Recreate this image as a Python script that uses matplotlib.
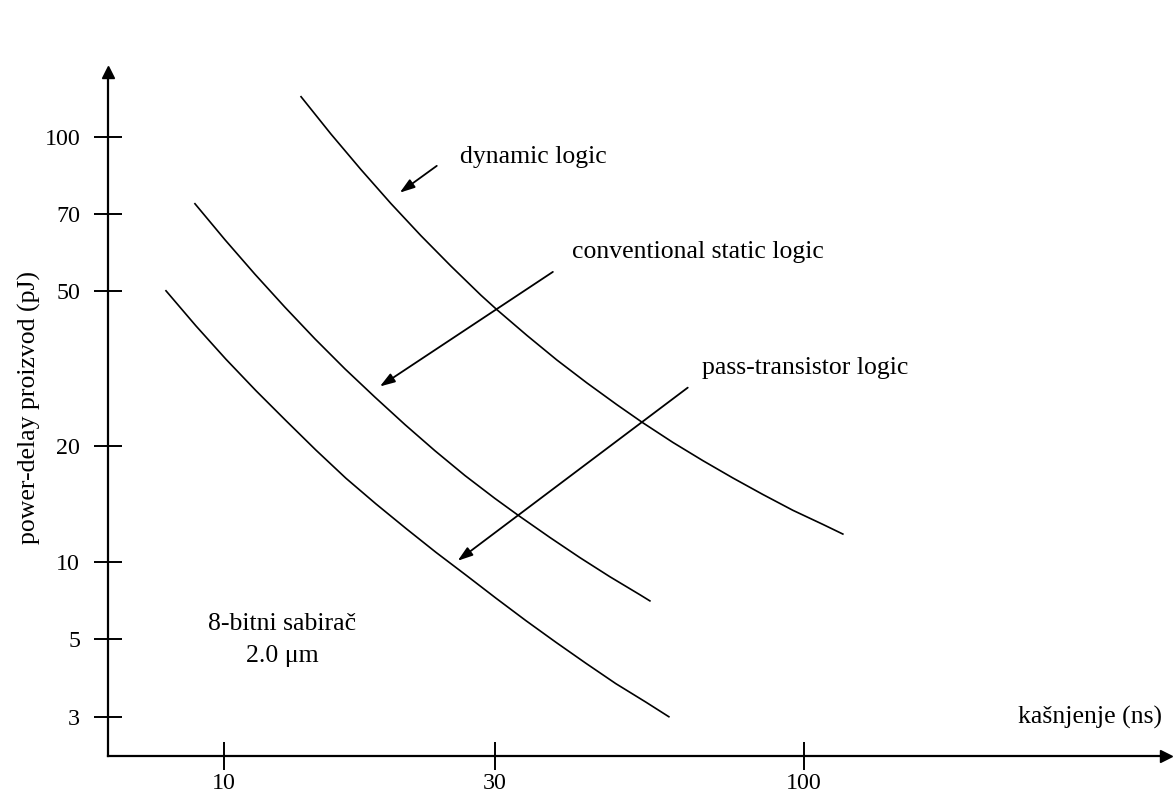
import numpy as np
import matplotlib
matplotlib.use("Agg")
import matplotlib.pyplot as plt

plt.rcParams['font.family'] = ['Liberation Serif', 'DejaVu Serif']

# ---------------- data ----------------
x_ticks = [10, 30, 100]
y_ticks = [3, 5, 10, 20, 50, 70, 100]

dyn_x = [13.67, 15.43, 17.43, 19.68, 22.23, 25.10, 28.35, 30.24, 33.99, 38.20,
         42.93, 48.25, 53.42, 60.02, 67.46, 75.82, 85.22, 95.80, 107.7, 116.4]
dyn_y = [120.4, 101.3, 85.9, 73.4, 63.6, 55.7, 48.7, 44.7, 38.4, 33.2,
         29.0, 25.5, 22.9, 20.4, 18.3, 16.5, 14.95, 13.6, 12.5, 11.8]

sta_x = [8.891, 10.04, 11.34, 12.81, 14.46, 16.33, 18.45, 20.83, 23.52,
         26.57, 30.0, 32.94, 37.18, 41.78, 46.95, 52.79, 54.88]
sta_y = [73.34, 62.5, 53.75, 45.35, 37.64, 31.52, 26.65, 22.67, 19.42,
         16.74, 14.60, 13.16, 11.56, 10.25, 8.74, 7.43, 7.03]

pas_x = [7.906, 8.927, 10.08, 11.386, 12.86, 14.52, 16.40, 18.52, 20.92,
         23.62, 26.67, 30.12, 33.85, 38.05, 42.76, 48.06, 54.05, 59.09]
pas_y = [50.0, 40.63, 33.37, 27.70, 23.20, 19.49, 16.47, 14.13, 12.20,
         10.58, 8.873, 7.206, 5.886, 4.886, 4.259, 3.726, 3.30, 3.0]

# arrow (label -> curve) endpoints, in data values
dyn_arrow = [(23.7, 87.4), (20.4, 77.2)]
sta_arrow = [(37.6, 54.3), (18.82, 28.4)]
pas_arrow = [(63.6, 28.2), (25.8, 10.06)]

# ---------------- axis scale (the drawn axis is not a plain log) ----------------
x_anchor_log = np.array([0.0, 1.0, np.log10(30), 2.0, 3.0])
x_anchor_pos = np.array([-344.0, 224.0, 495.0, 804.0, 1395.0])
y_anchor_log = np.array([0.0, np.log10(3), np.log10(5), 1.0, np.log10(20),
                         np.log10(50), np.log10(70), 2.0, 3.0])
y_anchor_pos = np.array([-91.8, 76.0, 154.0, 231.0, 347.0, 502.0, 579.0, 656.0, 1153.1])


def make_funcs(alog, apos):
    def fwd(v):
        v = np.asarray(v, dtype=float)
        lv = np.log10(np.clip(v, 1e-3, None))
        return np.interp(lv, alog, apos)

    def inv(p):
        p = np.asarray(p, dtype=float)
        return 10 ** np.interp(p, apos, alog)
    return fwd, inv


fig = plt.figure(figsize=(11.74, 7.93), dpi=100)
W, H = 1174.0, 793.0
left_px, right_px, top_px, bot_px = 108, 1166, 72, 756
ax = fig.add_axes([left_px / W, 1 - bot_px / H, (right_px - left_px) / W, (bot_px - top_px) / H])

ax.set_xscale('function', functions=make_funcs(x_anchor_log, x_anchor_pos))
ax.set_yscale('function', functions=make_funcs(y_anchor_log, y_anchor_pos))
ax.set_xlim(6.25, 410)
ax.set_ylim(2.32, 135)

lw = 1.2
ax.plot(dyn_x, dyn_y, color='black', lw=lw)
ax.plot(sta_x, sta_y, color='black', lw=lw)
ax.plot(pas_x, pas_y, color='black', lw=lw)

for (start, end) in (dyn_arrow, sta_arrow, pas_arrow):
    ax.annotate('', xy=end, xytext=start,
                arrowprops=dict(arrowstyle='-|>,head_length=0.9,head_width=0.3',
                                color='black', lw=1.3, shrinkA=0, shrinkB=0))

# axes styling
for s in ('top', 'right'):
    ax.spines[s].set_visible(False)
for s in ('left', 'bottom'):
    ax.spines[s].set_linewidth(1.6)
ax.set_xticks(x_ticks)
ax.set_xticklabels([str(v) for v in x_ticks])
ax.set_yticks(y_ticks)
ax.set_yticklabels([str(v) for v in y_ticks])
ax.minorticks_off()
ax.tick_params(axis='both', direction='inout', length=20, width=1.4, labelsize=17.3)
ax.tick_params(axis='y', pad=10)
ax.tick_params(axis='x', pad=2)

# arrow heads on the axes
ax.plot(0, 1, marker='^', color='black', markersize=9, transform=ax.transAxes, clip_on=False)
ax.plot(1, 0, marker='>', color='black', markersize=9, transform=ax.transAxes, clip_on=False)

fs = 18.5


def ftext(px, py, s, **kw):
    fig.text(px / W, 1 - py / H, s, fontsize=fs, **kw)


ftext(460, 157, 'dynamic logic', ha='left', va='center')
ftext(572, 252, 'conventional static logic', ha='left', va='center')
ftext(702, 368, 'pass-transistor logic', ha='left', va='center')
ftext(282, 624, '8-bitni sabirač', ha='center', va='center')
ftext(282, 656, '2.0 μm', ha='center', va='center')
ftext(1162, 717, 'kašnjenje (ns)', ha='right', va='center')
ftext(29, 408, 'power-delay proizvod (pJ)', ha='center', va='center', rotation=90)

fig.savefig('out.png', dpi=100)
